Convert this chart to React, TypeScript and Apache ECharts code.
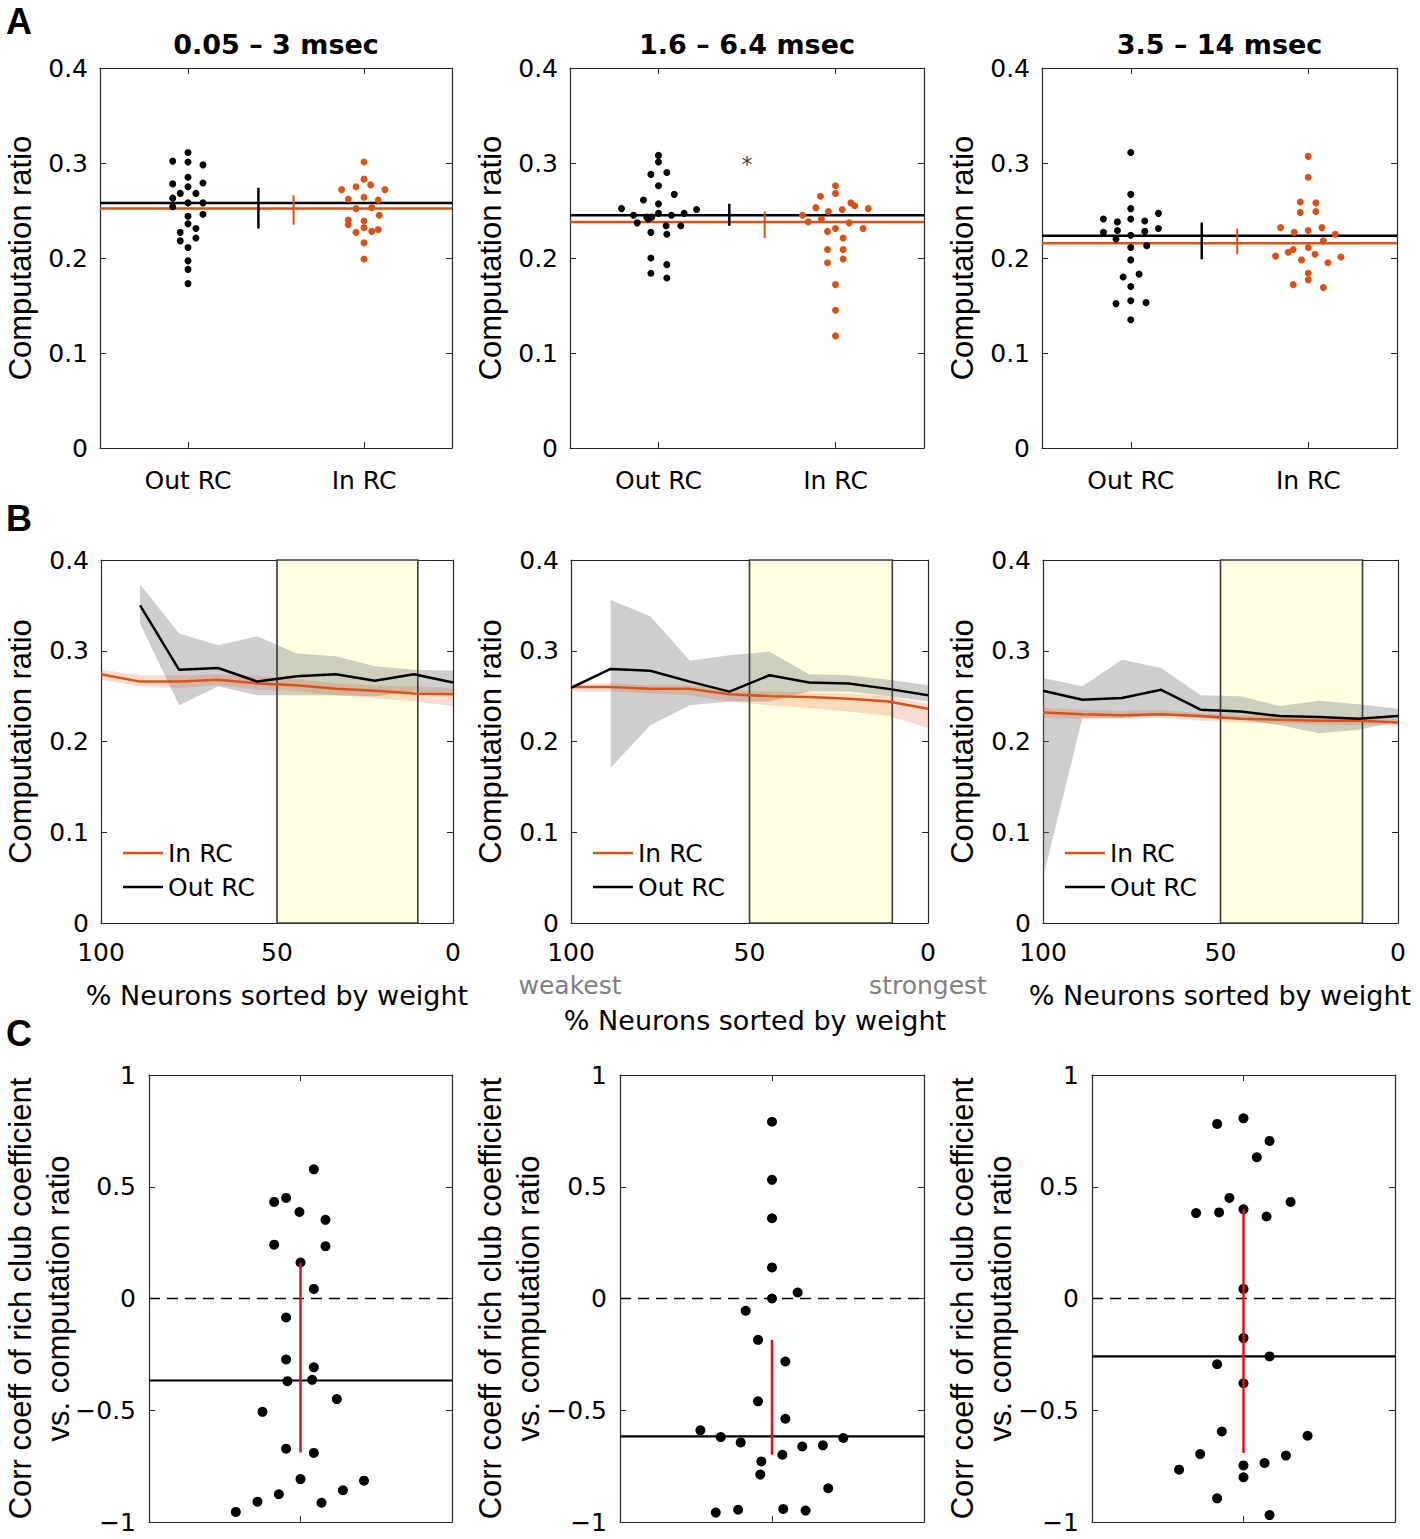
import React, { useEffect, useRef } from 'react';
import * as echarts from 'echarts';

// ---------------- colours / fonts ----------------
const ORANGE = '#D95319';
const BLACK = '#000000';
const RED = '#E3121A';
const AXIS = '#262626';
const FONT = 'DejaVu Sans';
const VFONT = 'Liberation Sans';

// ---------------- Panel A data ----------------
const A_TITLES = ['0.05 – 3 msec', '1.6 – 6.4 msec', '3.5 – 14 msec'];
const A_CATS = ['Out RC', 'In RC'];
const A_X_RANGE = [0.5, 2.5];
const A_Y_TICKS = [0, 0.4, 0.1];
const A_ERR_X = [1.4, 1.6];

const A1_OUT = [[0.913,0.302],[1,0.311],[1,0.301],[1.085,0.298],[0.913,0.278],[1,0.285],[1,0.275],[1.085,0.279],[0.956,0.268],[1.045,0.268],[0.913,0.263],[1,0.258],[1.085,0.258],[0.913,0.254],[1,0.244],[1.085,0.246],[1,0.236],[0.956,0.227],[1.045,0.231],[0.956,0.218],[1.045,0.221],[1,0.211],[1,0.197],[1,0.188],[1,0.173]];
const A1_IN = [[2,0.301],[2,0.283],[1.955,0.275],[2.038,0.277],[1.873,0.272],[2.119,0.272],[1.911,0.262],[2,0.264],[2.081,0.261],[1.955,0.252],[2.044,0.253],[2.087,0.245],[1.911,0.240],[1.911,0.235],[2,0.239],[1.955,0.227],[2,0.232],[2.044,0.228],[2.081,0.230],[2,0.216],[2,0.199]];
const A2_OUT = [[1,0.308],[1,0.301],[0.957,0.288],[1.047,0.290],[1,0.276],[1.089,0.267],[0.915,0.261],[1,0.257],[0.791,0.252],[1.215,0.251],[0.859,0.245],[0.934,0.243],[0.962,0.243],[1,0.247],[1.073,0.245],[1.145,0.247],[0.88,0.237],[0.942,0.241],[1.043,0.234],[1.126,0.234],[0.957,0.227],[1.047,0.225],[0.957,0.200],[1.047,0.193],[0.957,0.184],[1.047,0.179]];
const A2_IN = [[2,0.276],[2,0.268],[1.915,0.265],[1.889,0.253],[1.96,0.249],[2.038,0.251],[2.087,0.258],[2.109,0.255],[2.185,0.252],[1.814,0.245],[1.846,0.238],[1.921,0.241],[2.077,0.237],[2,0.231],[2.156,0.231],[1.955,0.228],[2.043,0.221],[1.955,0.209],[2.043,0.209],[1.955,0.195],[2.043,0.199],[2,0.172],[2,0.145],[2,0.118]];
const A3_OUT = [[1,0.311],[1,0.267],[1,0.252],[0.846,0.241],[0.925,0.238],[1,0.241],[1.079,0.239],[1.156,0.247],[0.846,0.227],[0.925,0.229],[1.079,0.228],[1.156,0.231],[0.917,0.220],[1,0.224],[1.09,0.213],[1,0.211],[1,0.198],[0.957,0.180],[1.047,0.183],[1,0.170],[0.917,0.152],[1,0.155],[1.086,0.153],[1,0.135]];
const A3_IN = [[2,0.307],[2,0.285],[1.955,0.259],[2.043,0.258],[1.955,0.248],[2.043,0.249],[1.844,0.232],[2.077,0.232],[1.921,0.227],[2,0.229],[2.152,0.225],[2.085,0.218],[1.887,0.206],[1.915,0.209],[2,0.211],[2.038,0.204],[1.816,0.202],[1.962,0.198],[2.184,0.201],[2.111,0.195],[2,0.184],[2,0.177],[1.915,0.172],[2.085,0.169]];
const A_OUT = [A1_OUT, A2_OUT, A3_OUT];
const A_IN = [A1_IN, A2_IN, A3_IN];
const A_MEAN_OUT = [0.258, 0.245, 0.2235];
const A_MEAN_IN = [0.252, 0.238, 0.2154];
const A_ERR_OUT = [[0.231, 0.274], [0.234, 0.257], [0.1986, 0.2375]];
const A_ERR_IN = [[0.235, 0.266], [0.221, 0.249], [0.204, 0.231]];
const A_STAR = [1.5, 0.298];

// ---------------- Panel B data ----------------
const B_X = [100, 88.9, 77.8, 66.7, 55.6, 44.4, 33.3, 22.2, 11.1, 0];
const B_HIGHLIGHT = [50, 10];
const B_Y_RANGE = [0, 0.4];
const B1_OUT = [null, 0.350, 0.279, 0.281, 0.266, 0.272, 0.274, 0.267, 0.274, 0.265];
const B1_OUT_HI = [null, 0.373, 0.319, 0.306, 0.316, 0.297, 0.294, 0.283, 0.279, 0.278];
const B1_OUT_LO = [null, 0.330, 0.240, 0.261, 0.251, 0.251, 0.251, 0.250, 0.255, 0.253];
const B1_IN = [0.274, 0.266, 0.266, 0.268, 0.264, 0.262, 0.258, 0.256, 0.253, 0.252];
const B1_IN_HI = [0.279, 0.273, 0.273, 0.274, 0.272, 0.269, 0.264, 0.262, 0.261, 0.259];
const B1_IN_LO = [0.268, 0.261, 0.259, 0.262, 0.257, 0.256, 0.251, 0.248, 0.244, 0.239];
const B2_OUT = [0.259, 0.280, 0.278, 0.266, 0.255, 0.273, 0.265, 0.264, 0.258, 0.251];
const B2_OUT_HI = [null, 0.356, 0.338, 0.289, 0.295, 0.299, 0.274, 0.273, 0.268, 0.262];
const B2_OUT_LO = [null, 0.171, 0.218, 0.240, 0.244, 0.244, 0.255, 0.255, 0.250, 0.244];
const B2_IN = [0.260, 0.260, 0.258, 0.258, 0.252, 0.250, 0.249, 0.247, 0.244, 0.236];
const B2_IN_HI = [0.264, 0.264, 0.262, 0.262, 0.257, 0.255, 0.254, 0.253, 0.250, 0.242];
const B2_IN_LO = [0.255, 0.255, 0.253, 0.251, 0.244, 0.240, 0.237, 0.233, 0.228, 0.215];
const B3_OUT = [0.256, 0.246, 0.248, 0.257, 0.235, 0.233, 0.228, 0.227, 0.225, 0.228];
const B3_OUT_HI = [0.270, 0.261, 0.290, 0.281, 0.251, 0.250, 0.239, 0.245, 0.241, 0.236];
const B3_OUT_LO = [0.050, 0.226, 0.226, 0.229, 0.226, 0.224, 0.218, 0.209, 0.213, 0.222];
const B3_IN = [0.232, 0.230, 0.229, 0.230, 0.228, 0.225, 0.224, 0.223, 0.223, 0.221];
const B3_IN_HI = [0.237, 0.235, 0.234, 0.235, 0.231, 0.229, 0.228, 0.227, 0.226, 0.225];
const B3_IN_LO = [0.226, 0.225, 0.225, 0.226, 0.223, 0.221, 0.220, 0.219, 0.218, 0.217];
const B_OUT = [B1_OUT, B2_OUT, B3_OUT];
const B_OUT_HI = [B1_OUT_HI, B2_OUT_HI, B3_OUT_HI];
const B_OUT_LO = [B1_OUT_LO, B2_OUT_LO, B3_OUT_LO];
const B_IN = [B1_IN, B2_IN, B3_IN];
const B_IN_HI = [B1_IN_HI, B2_IN_HI, B3_IN_HI];
const B_IN_LO = [B1_IN_LO, B2_IN_LO, B3_IN_LO];
const B_LEGEND = ['In RC', 'Out RC'];
const B_XTITLE = '% Neurons sorted by weight';

// ---------------- Panel C data ----------------
const C_X_RANGE = [0, 2];
const C1 = [[1.088,0.578],[0.826,0.432],[0.905,0.450],[0.993,0.387],[1.165,0.352],[0.826,0.241],[1.165,0.234],[1,0.161],[1.088,0.043],[0.905,-0.085],[0.905,-0.273],[1.088,-0.308],[0.914,-0.370],[1.077,-0.364],[1.24,-0.450],[0.749,-0.507],[0.905,-0.672],[1.088,-0.691],[1,-0.808],[1.419,-0.815],[1.28,-0.858],[0.857,-0.876],[0.716,-0.909],[1.139,-0.914],[0.573,-0.955]];
const C2 = [[1,0.791],[1,0.531],[1,0.359],[1,0.139],[1,0],[1.169,0.027],[0.827,-0.055],[0.908,-0.185],[1.088,-0.282],[0.908,-0.460],[1.088,-0.538],[0.529,-0.590],[0.663,-0.620],[0.794,-0.644],[1.199,-0.662],[1.335,-0.657],[1.469,-0.624],[1.068,-0.699],[0.93,-0.729],[0.923,-0.788],[1.37,-0.849],[0.63,-0.958],[0.777,-0.945],[1.074,-0.942],[1.221,-0.949]];
const C3 = [[1,0.806],[0.826,0.781],[1.172,0.705],[1.088,0.632],[0.907,0.450],[1.311,0.432],[0.687,0.382],[0.839,0.385],[1,0.399],[1.152,0.367],[1,0.043],[1,-0.177],[1.172,-0.259],[0.826,-0.294],[1,-0.379],[0.857,-0.595],[1.423,-0.614],[0.714,-0.696],[1.28,-0.703],[1.139,-0.736],[0.575,-0.766],[1,-0.747],[1,-0.800],[0.826,-0.894],[1.172,-0.969]];
const C_DOTS = [C1, C2, C3];
const C_MEAN = [-0.367, -0.617, -0.259];
const C_RANGE = [[-0.689, 0.161], [-0.699, -0.185], [-0.691, 0.399]];
const C_YLABEL = ['Corr coeff of rich club coefficient', 'vs. computation ratio'];

// ---------------- layout ----------------
const A_RECTS = [[100, 68, 352, 380], [570, 68, 354, 380], [1042, 68, 355, 380]];
const B_RECTS = [[101, 560, 352, 363], [571, 560, 357, 363], [1043, 560, 355, 363]];
const C_RECTS = [[149, 1075, 303, 447], [620, 1075, 304, 447], [1092, 1075, 303, 447]];
const YT_X = [20, 490, 962];

function buildOption() {
  const grids: any[] = [];
  const xAxes: any[] = [];
  const yAxes: any[] = [];
  const series: any[] = [];
  const graphic: any[] = [];

  const lblStyle = { color: '#000', fontFamily: FONT, fontSize: 25 };

  const makeAxis = (gi: number, pos: string, c: any, withLabels: boolean) => {
    const ax: any = {
      type: 'value', gridIndex: gi, position: pos,
      min: c.min, max: c.max, inverse: !!c.inverse,
      axisLine: { show: true, onZero: false, lineStyle: { color: AXIS, width: 1.2 } },
      axisTick: { show: true, inside: true, length: 6, lineStyle: { color: AXIS, width: 1 } },
      axisLabel: { show: false },
      splitLine: { show: false },
    };
    if (c.interval != null) ax.interval = c.interval;
    if (c.ticks) ax.axisTick.customValues = c.ticks;
    if (withLabels && c.labels !== false) {
      ax.axisLabel = {
        show: true, ...lblStyle, margin: c.margin,
        showMinLabel: true, showMaxLabel: true,
      };
      if (c.formatter) ax.axisLabel.formatter = c.formatter;
      if (c.ticks) ax.axisLabel.customValues = c.ticks;
    }
    return ax;
  };

  const addGrid = (r: number[], xc: any, yc: any) => {
    const gi = grids.length;
    grids.push({ left: r[0], top: r[1], width: r[2], height: r[3], show: false, containLabel: false, outerBoundsMode: 'none' });
    xAxes.push(makeAxis(gi, 'bottom', xc, true));
    xAxes.push(makeAxis(gi, 'top', xc, false));
    yAxes.push(makeAxis(gi, 'left', yc, true));
    yAxes.push(makeAxis(gi, 'right', yc, false));
    return { xi: gi * 2, yi: gi * 2 };
  };

  const seg = (xi: number, yi: number, data: any[], color: string, width: number, extra: any = {}) => ({
    type: 'line', xAxisIndex: xi, yAxisIndex: yi, data, symbol: 'none', silent: true, z: 2,
    lineStyle: { color, width, opacity: 1, ...(extra.lineStyle || {}) }, animation: false,
  });

  const dots = (xi: number, yi: number, data: any[], color: string, size: number) => ({
    type: 'scatter', xAxisIndex: xi, yAxisIndex: yi, data, symbolSize: size,
    itemStyle: { color, opacity: 1 }, z: 3, silent: true,
  });

  const text = (t: string, x: number, y: number, font: string, fill = '#000', align = 'center', rotation = 0) => ({
    type: 'text', x, y, rotation, silent: true,
    style: { text: t, font, fill, align, textAlign: align, verticalAlign: 'middle', textVerticalAlign: 'middle' },
  });

  // ---------- Panel A ----------
  for (let p = 0; p < 3; p++) {
    const { xi, yi } = addGrid(A_RECTS[p],
      { min: A_X_RANGE[0], max: A_X_RANGE[1], ticks: [1, 2], margin: 20, formatter: (v: number) => A_CATS[Math.round(v) - 1] },
      { min: A_Y_TICKS[0], max: A_Y_TICKS[1], interval: A_Y_TICKS[2], margin: 12 });
    series.push(seg(xi, yi, [[A_X_RANGE[0], A_MEAN_OUT[p]], [A_X_RANGE[1], A_MEAN_OUT[p]]], BLACK, 2.5));
    series.push(seg(xi, yi, [[A_X_RANGE[0], A_MEAN_IN[p]], [A_X_RANGE[1], A_MEAN_IN[p]]], ORANGE, 2.5));
    series.push(seg(xi, yi, [[A_ERR_X[0], A_ERR_OUT[p][0]], [A_ERR_X[0], A_ERR_OUT[p][1]]], BLACK, 2.5));
    series.push(seg(xi, yi, [[A_ERR_X[1], A_ERR_IN[p][0]], [A_ERR_X[1], A_ERR_IN[p][1]]], ORANGE, 2));
    series.push(dots(xi, yi, A_OUT[p], BLACK, 7));
    series.push(dots(xi, yi, A_IN[p], ORANGE, 7));
    if (p === 1) {
      series.push({
        type: 'scatter', xAxisIndex: xi, yAxisIndex: yi, data: [A_STAR], symbolSize: 2,
        itemStyle: { color: 'rgba(0,0,0,0)' }, z: 4, silent: true,
        label: { show: true, position: 'inside', formatter: '*', fontSize: 22, fontFamily: FONT, color: '#000' },
      });
    }
    const r = A_RECTS[p];
    graphic.push(text(A_TITLES[p], r[0] + r[2] / 2, 44, `bold 27px "${FONT}"`));
    graphic.push(text('Computation ratio', YT_X[p], r[1] + r[3] / 2, `31px "${VFONT}"`, '#000', 'center', Math.PI / 2));
  }

  // ---------- Panel B ----------
  for (let p = 0; p < 3; p++) {
    const { xi, yi } = addGrid(B_RECTS[p],
      { min: 0, max: 100, interval: 50, inverse: true, margin: 17 },
      { min: B_Y_RANGE[0], max: B_Y_RANGE[1], interval: 0.1, margin: 12 });
    const hiO = B_OUT_HI[p], loO = B_OUT_LO[p], hiI = B_IN_HI[p], loI = B_IN_LO[p];
    series.push({
      type: 'custom', xAxisIndex: xi, yAxisIndex: yi, data: [[B_X[0], B_Y_RANGE[0]]], silent: true, z: 1,
      renderItem: (_params: any, api: any) => {
        const poly = (hi: (number | null)[], lo: (number | null)[]) => {
          const top: number[][] = [];
          const bot: number[][] = [];
          B_X.forEach((x, i) => {
            if (hi[i] != null && lo[i] != null) {
              top.push(api.coord([x, hi[i]]));
              bot.push(api.coord([x, lo[i]]));
            }
          });
          return top.concat(bot.reverse());
        };
        const p1 = api.coord([B_HIGHLIGHT[0], B_Y_RANGE[1]]);
        const p2 = api.coord([B_HIGHLIGHT[1], B_Y_RANGE[0]]);
        const rect = {
          x: Math.min(p1[0], p2[0]), y: Math.min(p1[1], p2[1]),
          width: Math.abs(p2[0] - p1[0]), height: Math.abs(p2[1] - p1[1]),
        };
        return {
          type: 'group',
          children: [
            { type: 'rect', shape: rect, style: { fill: '#FFFFE4', stroke: 'none' } },
            { type: 'polygon', shape: { points: poly(hiO, loO) }, style: { fill: 'rgba(105,105,105,0.33)', stroke: 'none' } },
            { type: 'polygon', shape: { points: poly(hiI, loI) }, style: { fill: 'rgba(225,95,45,0.22)', stroke: 'none' } },
            { type: 'rect', shape: rect, style: { fill: 'none', stroke: '#3a3a3a', lineWidth: 1.6 } },
          ],
        };
      },
    });
    const outPts = B_X.map((x, i) => [x, B_OUT[p][i]]).filter((d) => d[1] != null);
    const inPts = B_X.map((x, i) => [x, B_IN[p][i]]);
    series.push({ ...seg(xi, yi, inPts, ORANGE, 2.5), z: 3 });
    series.push({ ...seg(xi, yi, outPts, BLACK, 2.5), z: 4 });

    const r = B_RECTS[p];
    graphic.push(text('Computation ratio', YT_X[p], r[1] + r[3] / 2, `31px "${VFONT}"`, '#000', 'center', Math.PI / 2));
    // legend
    const lx = r[0] + 22;
    graphic.push({ type: 'line', silent: true, shape: { x1: lx, y1: 853, x2: lx + 40, y2: 853 }, style: { stroke: ORANGE, lineWidth: 2.5 } });
    graphic.push({ type: 'line', silent: true, shape: { x1: lx, y1: 887, x2: lx + 40, y2: 887 }, style: { stroke: BLACK, lineWidth: 2.5 } });
    graphic.push(text(B_LEGEND[0], lx + 45, 853, `25px "${FONT}"`, '#000', 'left'));
    graphic.push(text(B_LEGEND[1], lx + 45, 887, `25px "${FONT}"`, '#000', 'left'));
  }
  graphic.push(text(B_XTITLE, 277, 995, `27px "${FONT}"`));
  graphic.push(text(B_XTITLE, 755, 1020, `27px "${FONT}"`));
  graphic.push(text(B_XTITLE, 1220, 995, `27px "${FONT}"`));
  graphic.push(text('weakest', 570, 985, `25px "${FONT}"`, '#808080'));
  graphic.push(text('strongest', 928, 985, `25px "${FONT}"`, '#808080'));

  // ---------- Panel C ----------
  for (let p = 0; p < 3; p++) {
    const { xi, yi } = addGrid(C_RECTS[p],
      { min: C_X_RANGE[0], max: C_X_RANGE[1], ticks: [1], labels: false },
      { min: -1, max: 1, interval: 0.5, margin: 13, formatter: (v: number) => (v < 0 ? '−' + Math.abs(v) : String(v)) });
    series.push(seg(xi, yi, [[C_X_RANGE[0], 0], [C_X_RANGE[1], 0]], BLACK, 1.5, { lineStyle: { type: [11, 7] } }));
    series.push(seg(xi, yi, [[C_X_RANGE[0], C_MEAN[p]], [C_X_RANGE[1], C_MEAN[p]]], BLACK, 2.2));
    series.push(dots(xi, yi, C_DOTS[p], BLACK, 10));
    series.push({ ...seg(xi, yi, [[1, C_RANGE[p][0]], [1, C_RANGE[p][1]]], RED, 2.5), z: 4 });
    const r = C_RECTS[p];
    const cy = r[1] + r[3] / 2;
    graphic.push(text(C_YLABEL[0], YT_X[p], cy, `31px "${VFONT}"`, '#000', 'center', Math.PI / 2));
    graphic.push(text(C_YLABEL[1], YT_X[p] + 38, cy, `31px "${VFONT}"`, '#000', 'center', Math.PI / 2));
  }

  // panel letters
  graphic.push(text('A', 6, 21, `bold 36px "${VFONT}"`, '#000', 'left'));
  graphic.push(text('B', 6, 518, `bold 36px "${VFONT}"`, '#000', 'left'));
  graphic.push(text('C', 6, 1033, `bold 36px "${VFONT}"`, '#000', 'left'));

  return {
    animation: false,
    backgroundColor: '#ffffff',
    grid: grids,
    xAxis: xAxes,
    yAxis: yAxes,
    series,
    graphic: { elements: graphic },
  };
}

export default function App() {
  const ref = useRef<HTMLDivElement>(null);
  useEffect(() => {
    if (!ref.current) return;
    const chart = echarts.init(ref.current, undefined, { renderer: 'svg' });
    chart.setOption(buildOption() as any);
    return () => chart.dispose();
  }, []);
  return (
    <div
      ref={ref}
      style={{ position: 'absolute', left: 0, top: 0, width: 1420, height: 1539, background: '#fff' }}
    />
  );
}
